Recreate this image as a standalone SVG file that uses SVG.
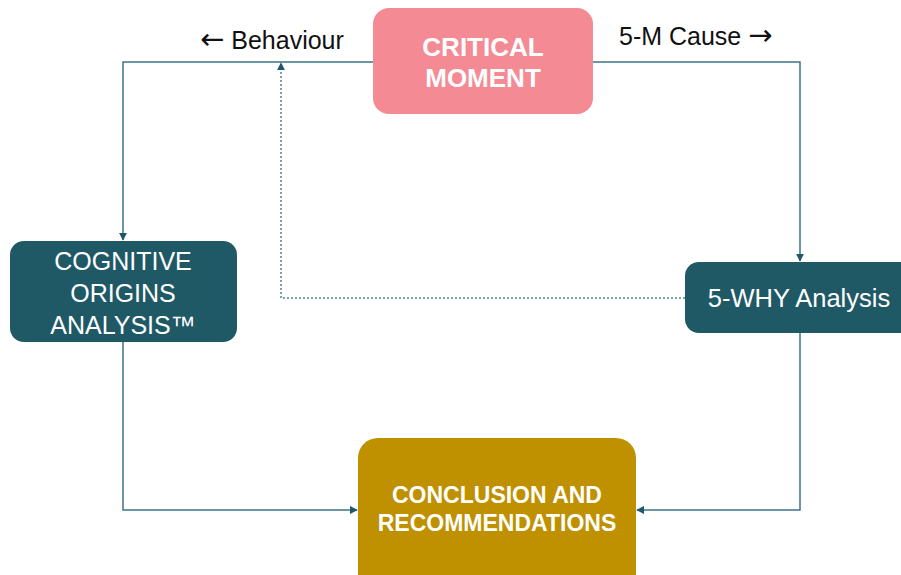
<svg xmlns="http://www.w3.org/2000/svg" width="901" height="575" viewBox="0 0 901 575">
<style>
.conn{fill:none;stroke:#3C7584;stroke-width:1.5}
.dot{fill:none;stroke:#4F8593;stroke-width:1.5;stroke-dasharray:2 2}
.lbl{font-family:"Liberation Sans",Arial,sans-serif;font-size:25px;fill:#111}
.arr{font-family:"DejaVu Sans",sans-serif;font-size:29px}
.wt{font-family:"Liberation Sans",Arial,sans-serif;fill:#fff;text-anchor:middle}
</style>
<defs>
<marker id="ah" viewBox="0 0 10 10" refX="9" refY="5" markerWidth="8" markerHeight="8" markerUnits="userSpaceOnUse" orient="auto">
<path d="M0,0 L10,5 L0,10 z" fill="#1F5966"/>
</marker>
</defs>
<rect width="901" height="575" fill="#fff"/>
<g id="connectors">
<path class="conn" d="M373,62 H123 V240" marker-end="url(#ah)"/>
<path class="conn" d="M593,62 H800 V261" marker-end="url(#ah)"/>
<path class="dot" d="M685,298 H281 V63" marker-end="url(#ah)"/>
<path class="conn" d="M123,342 V510 H357" marker-end="url(#ah)"/>
<path class="conn" d="M800,333 V510 H637" marker-end="url(#ah)"/>
</g>
<g id="label-behaviour"><text class="lbl" x="200" y="49"><tspan class="arr">←</tspan> Behaviour</text></g>
<g id="label-5m"><text class="lbl" x="619" y="45">5-M Cause <tspan class="arr">→</tspan></text></g>
<g id="critical-moment">
<rect x="373" y="8" width="220" height="106" rx="16" fill="#F48B94"/>
<text class="wt" x="483" y="56" font-size="26" font-weight="bold">CRITICAL</text>
<text class="wt" x="483" y="87" font-size="26" font-weight="bold">MOMENT</text>
</g>
<g id="cognitive-origins">
<rect x="10" y="241" width="227" height="101" rx="14" fill="#1F5966"/>
<text class="wt" x="123" y="270" font-size="25">COGNITIVE</text>
<text class="wt" x="123" y="302" font-size="25">ORIGINS</text>
<text class="wt" x="123" y="334" font-size="25">ANALYSIS™</text>
</g>
<g id="five-why">
<rect x="685" y="262" width="240" height="71" rx="14" fill="#1F5966"/>
<text class="wt" x="799" y="307" font-size="25.5">5-WHY Analysis</text>
</g>
<g id="conclusion">
<rect x="358" y="438" width="278" height="160" rx="20" fill="#BF9000"/>
<text class="wt" x="497" y="503" font-size="23" font-weight="bold">CONCLUSION AND</text>
<text class="wt" x="497" y="531" font-size="23" font-weight="bold">RECOMMENDATIONS</text>
</g>
</svg>
